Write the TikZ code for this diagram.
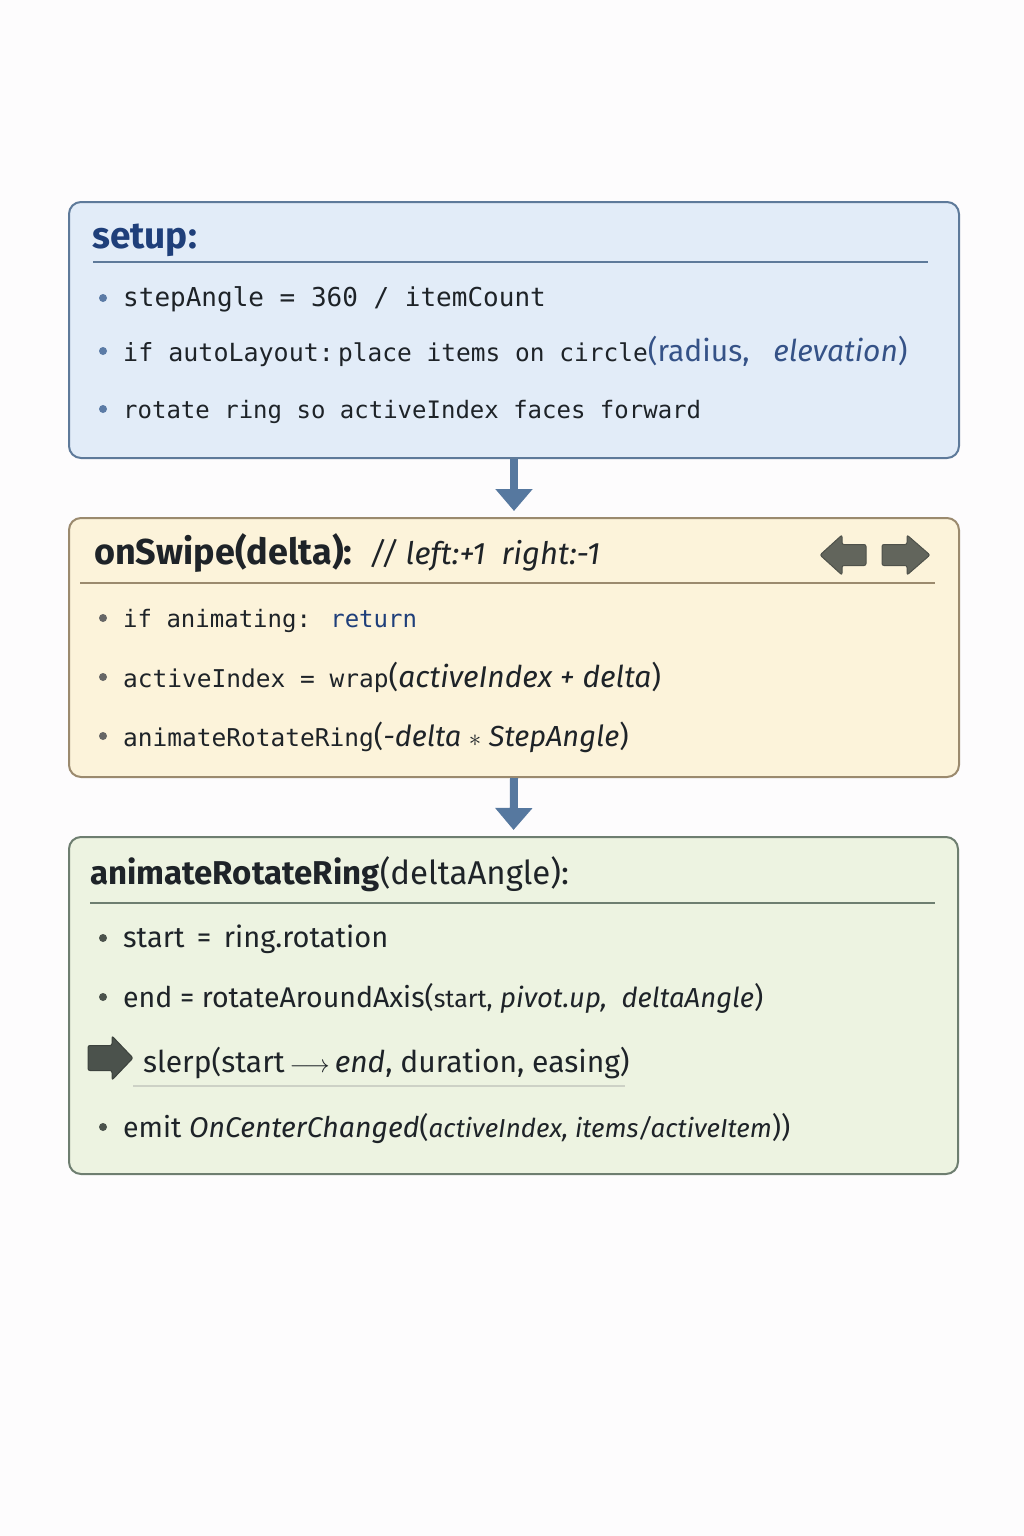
\documentclass[tikz,border=0pt]{standalone}
\usepackage{fontspec}
\setmainfont{Fira Sans}
\newfontfamily\monof{DejaVu Sans Mono}
\usetikzlibrary{arrows.meta}
\definecolor{bgc}{HTML}{FDFCFD}
\definecolor{bluefill}{HTML}{E2ECF8}
\definecolor{blueline}{HTML}{5E7A9A}
\definecolor{bluetitle}{HTML}{1F3F7A}
\definecolor{bluedot}{HTML}{5B7BA6}
\definecolor{yelfill}{HTML}{FCF3DA}
\definecolor{yelline}{HTML}{9B8A6E}
\definecolor{greenfill}{HTML}{EDF3E1}
\definecolor{greenline}{HTML}{6E7E70}
\definecolor{txt}{HTML}{1E2328}
\definecolor{darkg}{HTML}{4B524C}
\definecolor{grayarrow}{HTML}{62655C}
\definecolor{arrowc}{HTML}{56789F}
\definecolor{sepg}{HTML}{CDD1C6}
\tikzset{
  panel/.style={draw, line width=2pt, rounded corners=12pt, anchor=north west, inner sep=0pt},
  ln/.style={anchor=base west, inner sep=0pt, text=txt},
  bul/.style={circle, inner sep=0pt, minimum size=8pt},
  flow/.style={line width=8pt, arrowc, shorten >=6pt, -{Triangle[width=36pt,length=22pt]}},
  blockarrow/.style={line width=1pt, rounded corners=2pt},
}
\begin{document}
\begin{tikzpicture}[x=1pt,y=-1pt]
\useasboundingbox (0,0) rectangle (1024,1536);
\fill[bgc] (0,0) rectangle (1024,1536);

% ---------- setup box
\node[panel, draw=blueline, fill=bluefill, minimum width=890pt, minimum height=256pt] (setup) at (68,201) {};
\node[ln, text=bluetitle, font=\bfseries\fontsize{37}{40}\selectfont] (t1) at (92,248) {setup:};
\draw[blueline, line width=1.5pt] (93,262) coordinate (r1a) -- (928,262) coordinate (r1b);
\node[bul, fill=bluedot] (b11) at (103,298) {};
\node[ln, font=\monof\fontsize{26}{30}\selectfont] (l11) at (123,306) {stepAngle = 360 / itemCount};
\node[bul, fill=bluedot] (b12) at (103,351) {};
\node[ln, font=\monof\fontsize{25}{30}\selectfont] (l12) at (123,361) {if autoLayout:\,{\fontsize{24.5}{30}\selectfont place items on circle}{\color{bluetitle!90}\rmfamily\fontsize{30}{30}\selectfont(radius,\ \ \ \itshape elevation\upshape)}};
\node[bul, fill=bluedot] (b13) at (103,409) {};
\node[ln, font=\monof\fontsize{24}{30}\selectfont] (l13) at (123,418) {rotate ring so activeIndex faces forward};

% ---------- onSwipe box
\node[panel, draw=yelline, fill=yelfill, minimum width=890pt, minimum height=259pt] (swipe) at (68,517) {};
\node[ln, font=\bfseries\fontsize{36}{40}\selectfont] (t2) at (94,564) {onSwipe(delta):\ \ {\mdseries\itshape\fontsize{31}{34}\selectfont // left:+1\ \ right:-1}};
\draw[yelline, line width=1.5pt] (80,583) coordinate (r2a) -- (935,583) coordinate (r2b);
\coordinate (la) at (843,555);
\coordinate (ra) at (906,555);
\draw[blockarrow, fill=grayarrow, draw=grayarrow!80!black, shift={(la)}] (-23,0) -- (-1,-20) -- (-1,-10.5) -- (23,-10.5) -- (23,10.5) -- (-1,10.5) -- (-1,20) -- cycle;
\draw[blockarrow, fill=grayarrow, draw=grayarrow!80!black, shift={(ra)}] (24,0) -- (1,-20) -- (1,-10.5) -- (-24,-10.5) -- (-24,10.5) -- (1,10.5) -- (1,20) -- cycle;
\node[bul, fill=gray!80!black] (b21) at (103,618) {};
\node[ln, font=\monof\fontsize{24}{30}\selectfont] (l21) at (123,627) {if animating: {\color{bluetitle}return}};
\node[bul, fill=gray!80!black] (b22) at (103,677) {};
\node[ln, font=\monof\fontsize{24.5}{30}\selectfont] (l22) at (123,687) {activeIndex = wrap{\rmfamily\fontsize{30}{30}\selectfont(\itshape activeIndex + delta\upshape)}};
\node[bul, fill=gray!80!black] (b23) at (103,736) {};
\node[ln, font=\monof\fontsize{24.5}{30}\selectfont] (l23) at (123,746) {animateRotateRing{\rmfamily\fontsize{29}{30}\selectfont(\itshape -delta \upshape$\ast$\itshape\ StepAngle\upshape)}};

% ---------- animateRotateRing box
\node[panel, draw=greenline, fill=greenfill, minimum width=889pt, minimum height=337pt] (anim) at (68,836) {};
\node[ln, font=\bfseries\fontsize{33}{38}\selectfont] (t3) at (90,884) {animateRotateRing{\mdseries(deltaAngle):}};
\draw[greenline, line width=1.5pt] (90,903) coordinate (r3a) -- (935,903) coordinate (r3b);
\node[bul, fill=darkg] (b31) at (103,938) {};
\node[ln, font=\fontsize{29}{34}\selectfont] (l31) at (123,947) {start\ \,=\ \,ring.rotation};
\node[bul, fill=darkg] (b32) at (103,997) {};
\node[ln, font=\fontsize{28.5}{34}\selectfont] (l32) at (123,1007) {end = rotateAroundAxis({\fontsize{25}{30}\selectfont start,} {\itshape\fontsize{27.5}{30}\selectfont pivot.up,\ \ deltaAngle})};
\coordinate (sa) at (110,1058);
\draw[blockarrow, fill=darkg, draw=darkg!80!black, shift={(sa)}] (23,0) -- (2,-22) -- (2,-12.5) -- (-22,-12.5) -- (-22,12.5) -- (2,12.5) -- (2,22) -- cycle;
\node[ln, font=\fontsize{30}{34}\selectfont] (l33) at (143,1072) {slerp(start\,{\fontsize{32}{30}\selectfont$\longrightarrow$}\,{\itshape end}, duration, easing)};
\draw[sepg, line width=2pt] (133,1086) coordinate (r4a) -- (625,1086) coordinate (r4b);
\node[bul, fill=darkg] (b34) at (103,1127) {};
\node[ln, font=\fontsize{28.5}{34}\selectfont] (l34) at (123,1137) {emit {\itshape OnCenterChanged}({\fontsize{26}{30}\selectfont\itshape activeIndex, items/activeItem}))};

% ---------- flow arrows
\draw[flow] (setup.south) -- (swipe.north);
\draw[flow] (swipe.south) -- (anim.north);
\end{tikzpicture}
\end{document}
